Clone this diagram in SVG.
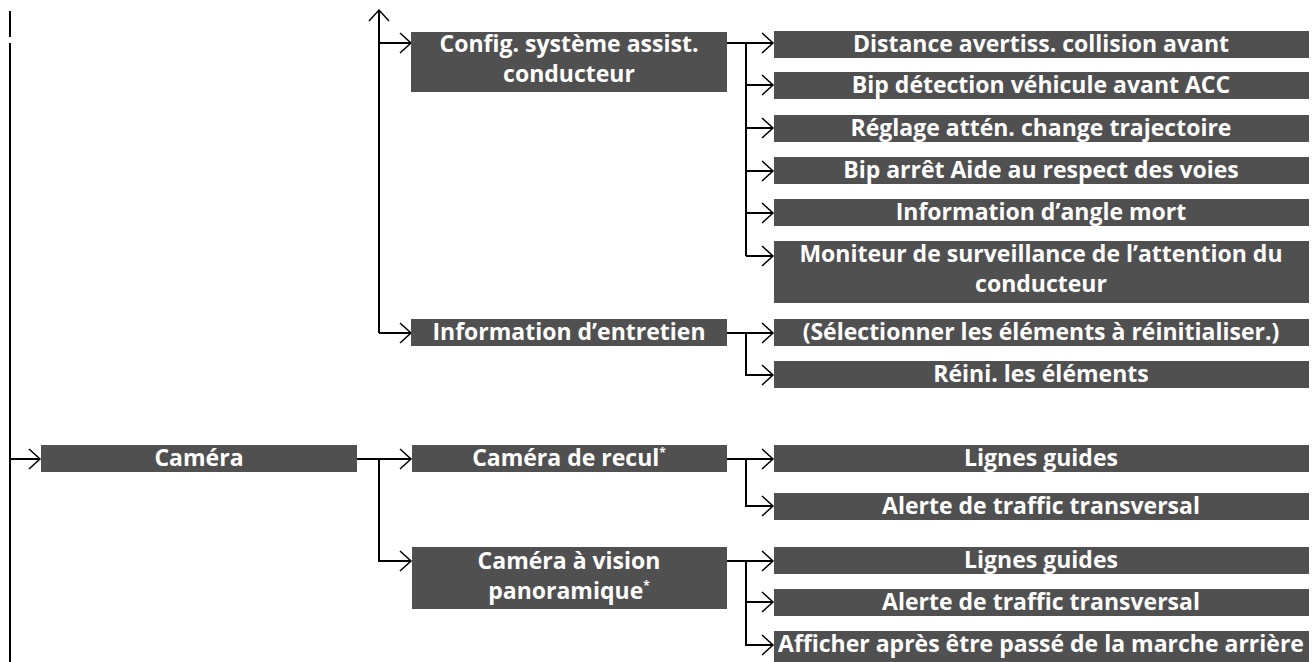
<svg xmlns="http://www.w3.org/2000/svg" width="1312" height="662" viewBox="0 0 1312 662">
<style>
.box{fill:#505050}
.t{font-family:"Open Sans","Noto Sans","Liberation Sans",sans-serif;font-weight:bold;font-size:23px;fill:#ffffff;text-anchor:middle}
.sup{font-size:12px}
.ln{stroke:#000;stroke-width:2;fill:none}
</style>
<defs>
<marker id="ah" markerUnits="userSpaceOnUse" markerWidth="24" markerHeight="24" viewBox="-12 -12 24 24" refX="0" refY="0" orient="auto" overflow="visible">
<path d="M-11,-10 L0,0 L-11,10" fill="none" stroke="#000" stroke-width="1.5"/>
</marker>
</defs>
<rect width="1312" height="662" fill="#fff"/>
<g id="connectors">
<path class="ln" d="M10,11 V37"/>
<path class="ln" d="M10,43 V662"/>
<path class="ln" d="M10,459 H40" marker-end="url(#ah)"/>
<path class="ln" d="M379,333 V10" marker-end="url(#ah)"/>
<path class="ln" d="M379,43 H411" marker-end="url(#ah)"/>
<path class="ln" d="M379,333 H411" marker-end="url(#ah)"/>
<path class="ln" d="M727,43 H773" marker-end="url(#ah)"/>
<path class="ln" d="M746,43 V256"/>
<path class="ln" d="M746,85 H773" marker-end="url(#ah)"/>
<path class="ln" d="M746,128 H773" marker-end="url(#ah)"/>
<path class="ln" d="M746,171 H773" marker-end="url(#ah)"/>
<path class="ln" d="M746,213 H773" marker-end="url(#ah)"/>
<path class="ln" d="M746,256 H773" marker-end="url(#ah)"/>
<path class="ln" d="M727,333 H773" marker-end="url(#ah)"/>
<path class="ln" d="M746,333 V375 H773" marker-end="url(#ah)"/>
<path class="ln" d="M357,459 H411" marker-end="url(#ah)"/>
<path class="ln" d="M379,459 V561 H411" marker-end="url(#ah)"/>
<path class="ln" d="M727,459 H773" marker-end="url(#ah)"/>
<path class="ln" d="M746,459 V506 H773" marker-end="url(#ah)"/>
<path class="ln" d="M727,561 H773" marker-end="url(#ah)"/>
<path class="ln" d="M746,561 V645 H773" marker-end="url(#ah)"/>
<path class="ln" d="M746,602 H773" marker-end="url(#ah)"/>
</g>
<g id="n-config"><rect class="box" x="411" y="32" width="316" height="60"/><text class="t" x="569" y="52">Config. système assist.</text><text class="t" x="569" y="82">conducteur</text></g>
<g id="n-distance"><rect class="box" x="774" y="31" width="535" height="27"/><text class="t" x="1041" y="52">Distance avertiss. collision avant</text></g>
<g id="n-bip-acc"><rect class="box" x="774" y="72" width="535" height="27"/><text class="t" x="1041" y="93">Bip détection véhicule avant ACC</text></g>
<g id="n-reglage"><rect class="box" x="774" y="115" width="535" height="27"/><text class="t" x="1041" y="136">Réglage attén. change trajectoire</text></g>
<g id="n-bip-voies"><rect class="box" x="774" y="157" width="535" height="27"/><text class="t" x="1041" y="178">Bip arrêt Aide au respect des voies</text></g>
<g id="n-angle"><rect class="box" x="774" y="199" width="535" height="27"/><text class="t" x="1041" y="220">Information d’angle mort</text></g>
<g id="n-moniteur"><rect class="box" x="774" y="241" width="535" height="62"/><text class="t" x="1041" y="262">Moniteur de surveillance de l’attention du</text><text class="t" x="1041" y="292">conducteur</text></g>
<g id="n-entretien"><rect class="box" x="411" y="319" width="316" height="27"/><text class="t" x="569" y="340">Information d’entretien</text></g>
<g id="n-selection"><rect class="box" x="774" y="319" width="535" height="27"/><text class="t" x="1041" y="340">(Sélectionner les éléments à réinitialiser.)</text></g>
<g id="n-reini"><rect class="box" x="774" y="361" width="535" height="27"/><text class="t" x="1041" y="382">Réini. les éléments</text></g>
<g id="n-camera"><rect class="box" x="41" y="445" width="316" height="27"/><text class="t" x="199" y="466">Caméra</text></g>
<g id="n-recul"><rect class="box" x="412" y="445" width="315" height="27"/><text class="t" x="569" y="466">Caméra de recul<tspan class="sup" dy="-9">*</tspan></text></g>
<g id="n-lignes1"><rect class="box" x="774" y="445" width="535" height="27"/><text class="t" x="1041" y="466">Lignes guides</text></g>
<g id="n-alerte1"><rect class="box" x="774" y="493" width="535" height="27"/><text class="t" x="1041" y="514">Alerte de traffic transversal</text></g>
<g id="n-panoramique"><rect class="box" x="412" y="547" width="315" height="62"/><text class="t" x="569" y="569">Caméra à vision</text><text class="t" x="569" y="599">panoramique<tspan class="sup" dy="-9">*</tspan></text></g>
<g id="n-lignes2"><rect class="box" x="774" y="547" width="535" height="27"/><text class="t" x="1041" y="568">Lignes guides</text></g>
<g id="n-alerte2"><rect class="box" x="774" y="589" width="535" height="27"/><text class="t" x="1041" y="610">Alerte de traffic transversal</text></g>
<g id="n-afficher"><rect class="box" x="774" y="631" width="535" height="31"/><text class="t" x="1041" y="652">Afficher après être passé de la marche arrière</text></g>
</svg>
